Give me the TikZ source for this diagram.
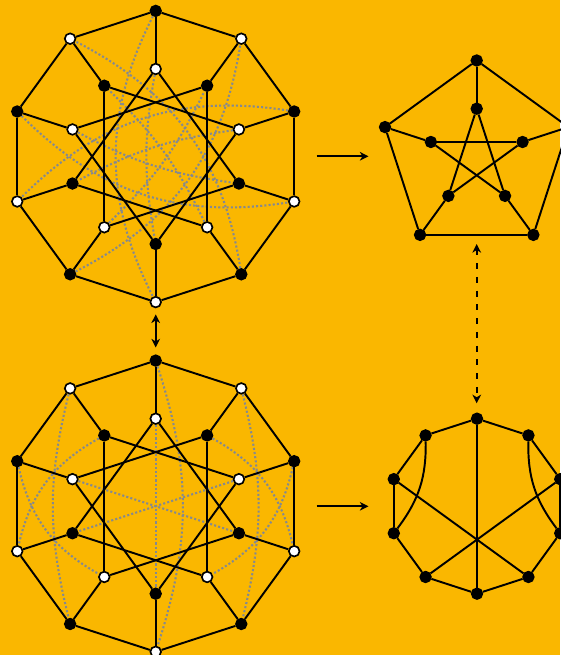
\documentclass[tikz,border=0pt]{standalone}
\usepackage{tikz}
\usetikzlibrary{arrows.meta,backgrounds}
\definecolor{amber}{HTML}{FAB700}
\definecolor{dotgray}{HTML}{85898F}
\tikzset{
  vert/.style={circle,draw=black,line width=1.25pt,minimum size=8pt,inner sep=0pt},
  bvert/.style={vert,fill=black},
  wvert/.style={vert,fill=white},
  graphedge/.style={draw=black,line width=1.45pt},
  dotedge/.style={draw=dotgray,line width=1.55pt,dash pattern=on 1.55pt off 1.6pt},
  maparrow/.style={draw=black,line width=1.45pt,{Stealth[length=6.5pt,width=6.5pt,inset=2pt]}-{Stealth[length=6.5pt,width=6.5pt,inset=2pt]}},
  mapto/.style={draw=black,line width=1.45pt,-{Stealth[length=6.5pt,width=6.5pt,inset=2pt]}}
}
\begin{document}
\begin{tikzpicture}[x=0.75pt,y=0.75pt]
\useasboundingbox (0,0) rectangle (560,655);
% the two decagon drawings
\foreach \g/\cy in {t/498.5,b/148.8}{
  \foreach \k/\ost/\ist in {0/bvert/wvert,1/wvert/bvert,2/bvert/wvert,3/wvert/bvert,4/bvert/wvert,
                            5/wvert/bvert,6/bvert/wvert,7/wvert/bvert,8/bvert/wvert,9/wvert/bvert}{
    \node[\ost] (\g o\k) at ({155.7+145.6*cos(90-36*\k)},{\cy+145.6*sin(90-36*\k)}) {};
    \node[\ist] (\g i\k) at ({155.7+87.5*cos(90-36*\k)},{\cy+87.5*sin(90-36*\k)}) {};
  }
}
% pentagon and pentagram
\foreach \k in {0,...,4}{
  \node[bvert] (po\k) at ({476.7+96.4*cos(90-72*\k)},{498.1+96.4*sin(90-72*\k)}) {};
  \node[bvert] (pi\k) at ({476.7+48.2*cos(90-72*\k)},{498.1+48.2*sin(90-72*\k)}) {};
}
% small decagon
\foreach \k in {0,...,9}
  \node[bvert] (d\k) at ({477+87.5*cos(90-36*\k)},{148.8+87.5*sin(90-36*\k)}) {};

\coordinate (arrAs) at (316.5,498.7);
\coordinate (arrAe) at (368.5,498.7);
\coordinate (arrBs) at (316.5,148.7);
\coordinate (arrBe) at (368.5,148.7);
\coordinate (dashA) at (476.7,411);
\coordinate (dashB) at (476.7,251.7);

\begin{scope}[on background layer]
\fill[amber] (0,0) rectangle (560,655);
% dotted pairs, upper drawing
\foreach \k/\n in {0/5,2/7,4/9,6/1,8/3}{
  \draw[dotedge] (to\k) to[bend right=27] (to\n);
  \draw[dotedge] (ti\k) to[bend right=10] (ti\n);
}
% dotted pairs, lower drawing
\draw[dotedge] (bi0) -- (bi5);
\draw[dotedge] (bi8) -- (bi3);
\draw[dotedge] (bi2) -- (bi7);
\draw[dotedge] (bo0) to[bend left=18] (bo5);
\draw[dotedge] (bo9) to[bend right=14] (bo6);
\draw[dotedge] (bo1) to[bend left=14] (bo4);
\draw[dotedge] (bi9) to[bend right=24] (bo7);
\draw[dotedge] (bo8) to[bend right=24] (bi6);
\draw[dotedge] (bi1) to[bend left=24] (bo3);
\draw[dotedge] (bo2) to[bend left=24] (bi4);
% solid edges
\foreach \g in {t,b}{
  \foreach \k [evaluate=\k as \n using {int(mod(\k+1,10))},evaluate=\k as \m using {int(mod(\k+3,10))}] in {0,...,9}{
    \draw[graphedge] (\g o\k) -- (\g o\n);
    \draw[graphedge] (\g o\k) -- (\g i\k);
    \draw[graphedge] (\g i\k) -- (\g i\m);
  }
}
\foreach \k [evaluate=\k as \n using {int(mod(\k+1,5))},evaluate=\k as \m using {int(mod(\k+2,5))}] in {0,...,4}{
  \draw[graphedge] (po\k) -- (po\n);
  \draw[graphedge] (po\k) -- (pi\k);
  \draw[graphedge] (pi\k) -- (pi\m);
}
\foreach \k [evaluate=\k as \n using {int(mod(\k+1,10))}] in {0,...,9}
  \draw[graphedge] (d\k) -- (d\n);
\draw[graphedge] (d0) -- (d5);
\draw[graphedge] (d8) -- (d4);
\draw[graphedge] (d2) -- (d6);
\draw[graphedge] (d9) to[bend left=19] (d7);
\draw[graphedge] (d1) to[bend right=19] (d3);
\end{scope}

\draw[mapto] (arrAs) -- (arrAe);
\draw[mapto] (arrBs) -- (arrBe);
\draw[maparrow,shorten <=4.6pt,shorten >=5.2pt] (to5) -- (bo0);
\draw[maparrow,dash pattern=on 4.5pt off 5.8pt] (dashA) -- (dashB);
\end{tikzpicture}
\end{document}
